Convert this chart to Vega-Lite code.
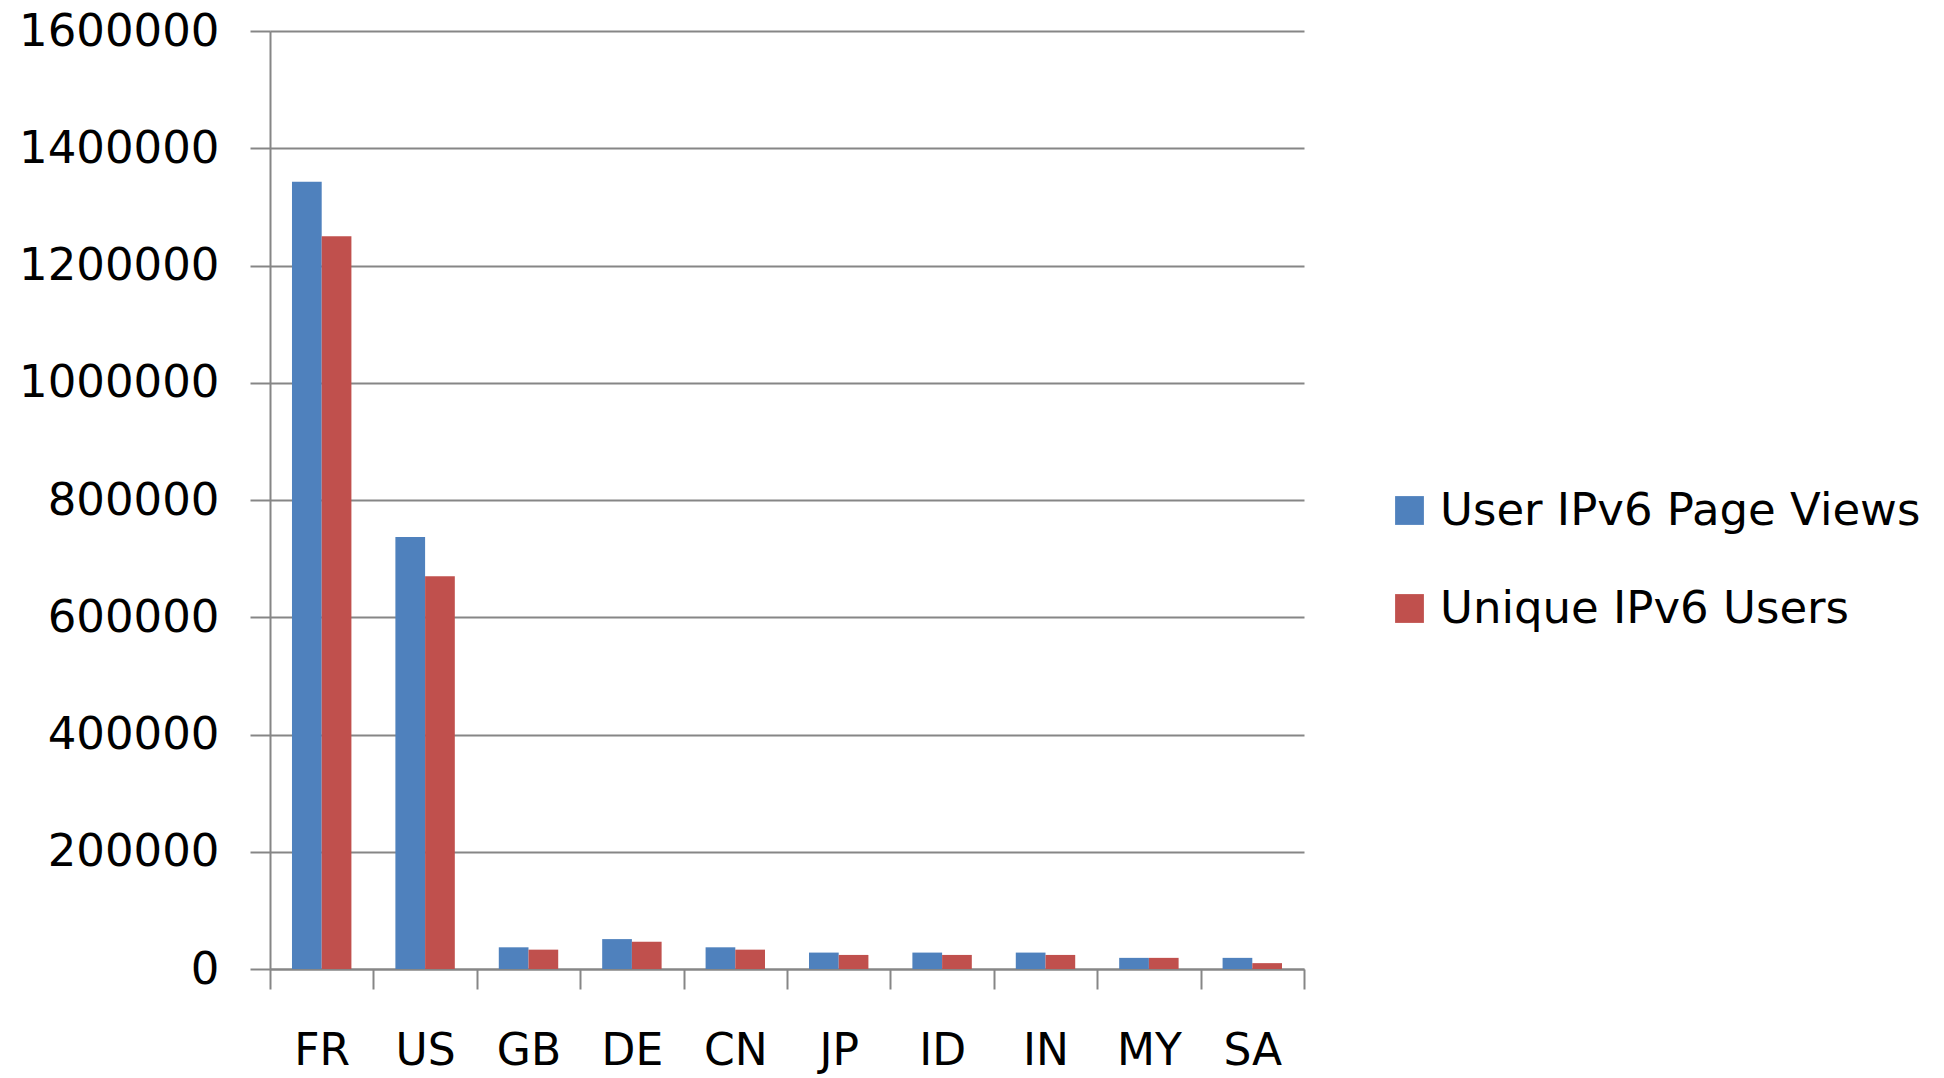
{
  "$schema": "https://vega.github.io/schema/vega-lite/v6.json",
  "autosize": {"type": "none"},
  "width": 1034,
  "height": 938,
  "padding": {"left": 270, "top": 31, "right": 640, "bottom": 109},
  "background": "white",
  "config": {
    "view": {"stroke": null},
    "font": "DejaVu Sans"
  },
  "data": {
    "values": [
      {"country": "FR", "series": "User IPv6 Page Views", "value": 1343000},
      {"country": "FR", "series": "Unique IPv6 Users", "value": 1250000},
      {"country": "US", "series": "User IPv6 Page Views", "value": 737000},
      {"country": "US", "series": "Unique IPv6 Users", "value": 670000},
      {"country": "GB", "series": "User IPv6 Page Views", "value": 37000},
      {"country": "GB", "series": "Unique IPv6 Users", "value": 33000},
      {"country": "DE", "series": "User IPv6 Page Views", "value": 51000},
      {"country": "DE", "series": "Unique IPv6 Users", "value": 46500},
      {"country": "CN", "series": "User IPv6 Page Views", "value": 37000},
      {"country": "CN", "series": "Unique IPv6 Users", "value": 33000},
      {"country": "JP", "series": "User IPv6 Page Views", "value": 28000},
      {"country": "JP", "series": "Unique IPv6 Users", "value": 24000},
      {"country": "ID", "series": "User IPv6 Page Views", "value": 28000},
      {"country": "ID", "series": "Unique IPv6 Users", "value": 24000},
      {"country": "IN", "series": "User IPv6 Page Views", "value": 28000},
      {"country": "IN", "series": "Unique IPv6 Users", "value": 24000},
      {"country": "MY", "series": "User IPv6 Page Views", "value": 19000},
      {"country": "MY", "series": "Unique IPv6 Users", "value": 19000},
      {"country": "SA", "series": "User IPv6 Page Views", "value": 19000},
      {"country": "SA", "series": "Unique IPv6 Users", "value": 10000}
    ]
  },
  "mark": {"type": "bar"},
  "encoding": {
    "x": {
      "field": "country",
      "type": "nominal",
      "sort": ["FR", "US", "GB", "DE", "CN", "JP", "ID", "IN", "MY", "SA"],
      "scale": {"paddingInner": 0, "paddingOuter": 0},
      "axis": {
        "title": null,
        "labelAngle": 0,
        "labelFontSize": 44,
        "labelColor": "#000000",
        "labelPadding": 40,
        "tickBand": "extent",
        "tickSize": 20,
        "tickColor": "#868686",
        "tickWidth": 2,
        "domainColor": "#868686",
        "domainWidth": 2,
        "grid": false
      }
    },
    "xOffset": {
      "field": "series",
      "type": "nominal",
      "sort": ["User IPv6 Page Views", "Unique IPv6 Users"],
      "scale": {"paddingInner": 0, "paddingOuter": 0.74}
    },
    "y": {
      "field": "value",
      "type": "quantitative",
      "scale": {"domain": [0, 1600000], "nice": false},
      "axis": {
        "title": null,
        "values": [0, 200000, 400000, 600000, 800000, 1000000, 1200000, 1400000, 1600000],
        "format": "d",
        "labelFontSize": 45,
        "labelColor": "#000000",
        "labelPadding": 31,
        "labelLimit": 400,
        "tickSize": 20,
        "tickColor": "#868686",
        "tickWidth": 2,
        "domainColor": "#868686",
        "domainWidth": 2,
        "grid": true,
        "gridColor": "#868686",
        "gridWidth": 2
      }
    },
    "color": {
      "field": "series",
      "type": "nominal",
      "sort": ["User IPv6 Page Views", "Unique IPv6 Users"],
      "scale": {"domain": ["User IPv6 Page Views", "Unique IPv6 Users"], "range": ["#4F81BD", "#C0504D"]},
      "legend": {
        "title": null,
        "orient": "none",
        "legendX": 1117,
        "legendY": 457,
        "symbolType": "square",
        "symbolSize": 830,
        "symbolStrokeWidth": 0,
        "labelFontSize": 45,
        "labelColor": "#000000",
        "labelOffset": 8,
        "rowPadding": 52,
        "labelLimit": 700
      }
    }
  }
}
